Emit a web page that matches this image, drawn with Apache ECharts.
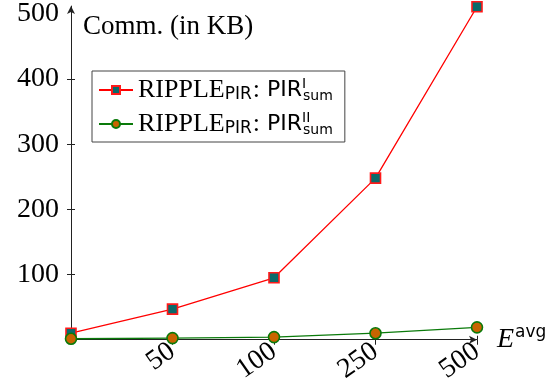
<!DOCTYPE html>
<html><head><meta charset="utf-8">
<script src="https://cdn.jsdelivr.net/npm/echarts@6/dist/echarts.min.js"></script>
<style>html,body{margin:0;padding:0;background:#fff}#c{width:559px;height:386px}</style>
</head><body><div id="c"></div>
<script>
const categories = ['10', '50', '100', '250', '500'];
const pirSumI = [10, 47, 95, 248, 511];
const pirSumII = [1.5, 2.5, 4, 10, 19];
const yTickLabels = [100, 200, 300, 400, 500];
const yTicks = [100, 200, 300, 400];

const serif = 'Liberation Serif';
const sans = 'DejaVu Sans';
const legendRich = {
  s: {fontFamily: serif, fontSize: 26, color: '#000'},
  sub: {fontFamily: sans, fontSize: 17, color: '#000', padding: [9, 0, 0, 0]},
  c: {fontFamily: serif, fontSize: 26, color: '#000', padding: [0, 7, 0, 1]},
  sf: {fontFamily: sans, fontSize: 22, color: '#000'},
  sup: {fontFamily: sans, fontSize: 14, color: '#000', padding: [0, 0, 12, 0], width: 0},
  sub2: {fontFamily: sans, fontSize: 14, color: '#000', padding: [12, 0, 0, 1]}
};

const chart = echarts.init(document.getElementById('c'), null, {renderer: 'canvas'});
chart.setOption({
  animation: false,
  title: {
    text: 'Comm. (in KB)', left: 78, top: 8,
    textStyle: {fontFamily: serif, fontSize: 27, fontWeight: 'normal', color: '#000'}
  },
  legend: {
    left: 92, top: 71, orient: 'vertical',
    backgroundColor: '#fff', borderColor: '#444', borderWidth: 1, borderRadius: 0,
    padding: [6, 12, 5, 6], itemGap: 8, itemWidth: 34, itemHeight: 10,
    data: ['I', 'II'],
    formatter: function (name) {
      return '{s|RIPPLE}{sub|PIR}{c|:}{sf|PIR}{sup|' + name + '}{sub2|sum}';
    },
    textStyle: {fontFamily: serif, fontSize: 26, rich: legendRich}
  },
  grid: {left: 71, right: 82, top: 6, bottom: 42},
  xAxis: [{
    type: 'category', data: categories, boundaryGap: false,
    name: '{e|E}{a|avg}', nameLocation: 'end', nameGap: 20,
    nameTextStyle: {rich: {
      e: {fontFamily: serif, fontStyle: 'italic', fontSize: 28, color: '#000'},
      a: {fontFamily: sans, fontSize: 17, color: '#000', padding: [0, 0, 14, 1]}
    }},
    axisLine: {lineStyle: {color: '#222', width: 1}, symbol: ['none', 'arrow'], symbolSize: [6, 8]},
    axisTick: {show: true, alignWithLabel: true, length: 5, lineStyle: {color: '#222'}},
    axisLabel: {showMinLabel: false, rotate: 35, margin: 9, fontFamily: serif, fontSize: 28, color: '#000'},
    splitLine: {show: false}
  }, {
    type: 'category', data: categories, boundaryGap: false, position: 'bottom',
    axisLine: {show: false},
    axisTick: {show: true, inside: true, alignWithLabel: true, length: 4, lineStyle: {color: '#222'}},
    axisLabel: {show: false}, splitLine: {show: false}
  }],
  yAxis: [{
    type: 'value', min: 0, max: 512,
    axisLine: {show: true, lineStyle: {color: '#222', width: 1}, symbol: ['none', 'arrow'], symbolSize: [6, 8]},
    axisTick: {show: true, length: 4, lineStyle: {color: '#222'}, customValues: yTicks},
    axisLabel: {margin: 12, padding: [5, 0, 0, 0], fontFamily: serif, fontSize: 28, color: '#000', customValues: yTickLabels},
    splitLine: {show: false}
  }, {
    type: 'value', min: 0, max: 512, position: 'left',
    axisLine: {show: false},
    axisTick: {show: true, inside: true, length: 4, lineStyle: {color: '#222'}, customValues: yTicks},
    axisLabel: {show: false}, splitLine: {show: false}
  }],
  series: [
    {
      name: 'I', type: 'line', data: pirSumI,
      lineStyle: {color: '#ff0000', width: 1.3},
      symbol: 'rect', symbolSize: 10,
      itemStyle: {color: '#0a6a6a', borderColor: '#ff1a1a', borderWidth: 1.6},
      z: 2
    },
    {
      name: 'II', type: 'line', data: pirSumII,
      lineStyle: {color: '#0a7a0a', width: 1.3},
      symbol: 'circle', symbolSize: 11,
      itemStyle: {color: '#c86400', borderColor: '#0a7a0a', borderWidth: 1.6},
      z: 3
    }
  ]
});
</script></body></html>
